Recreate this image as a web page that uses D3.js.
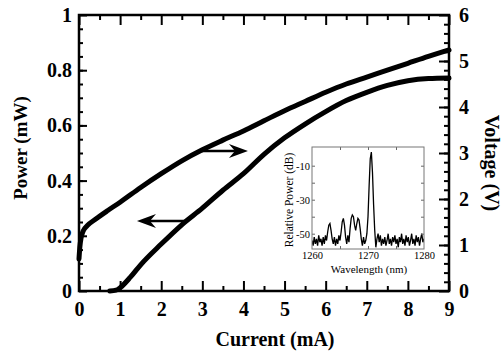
<!DOCTYPE html>
<html>
<head>
<meta charset="utf-8">
<script src="https://cdn.jsdelivr.net/npm/d3@7"></script>
<style>
  body { margin: 0; background: #fff; }
  svg { display: block; }
</style>
</head>
<body>
<script>
// L-I curve (left axis, power in mW)
const powerCurrent = [0.75, 0.9, 1.0, 1.25, 1.5, 2, 2.5, 3, 3.5, 4, 4.5, 5, 5.5, 6, 6.5, 7, 7.5, 8, 8.5, 9];
const powerMW      = [0, 0.003, 0.012, 0.05, 0.095, 0.17, 0.24, 0.3, 0.365, 0.425, 0.495, 0.555, 0.605, 0.65, 0.69, 0.72, 0.745, 0.762, 0.77, 0.772];

// V-I curve (right axis, volts)
const voltCurrent = [0, 0.02, 0.05, 0.1, 0.2, 0.4, 0.7, 1, 1.5, 2, 2.5, 3, 3.5, 4, 4.5, 5, 5.5, 6, 6.5, 7, 7.5, 8, 8.5, 9];
const voltage     = [0.7, 0.95, 1.15, 1.3, 1.42, 1.56, 1.75, 1.93, 2.25, 2.55, 2.83, 3.07, 3.28, 3.48, 3.7, 3.92, 4.12, 4.32, 4.5, 4.65, 4.8, 4.95, 5.1, 5.24];

const xTickLabels = [0, 1, 2, 3, 4, 5, 6, 7, 8, 9];
const powerTickLabels = [0, 0.2, 0.4, 0.6, 0.8, 1];
const voltTickLabels = [0, 1, 2, 3, 4, 5, 6];

// arrows [current, power] tail -> tip
const arrowTails = [[2.99, 0.507], [2.65, 0.254]];
const arrowTips  = [[4.11, 0.507], [1.41, 0.254]];

// inset spectrum, sampled every 0.2 nm from 1260 nm
const specStart = 1260, specStep = 0.2;
const specDB = [
  -54, -57, -52, -56, -53, -57, -51, -55, -53, -57,
  -52, -56, -51, -54, -49, -45, -44, -48, -53, -56,
  -52, -57, -53, -56, -51, -54, -49, -43, -41, -45,
  -52, -56, -51, -55, -47, -41, -39, -40, -45, -48,
  -44, -41, -42, -47, -53, -57, -52, -56, -54, -50,
  -40, -22, -6, -2, -14, -33, -48, -58, -53, -50,
  -55, -51, -57, -53, -56, -52, -57, -54, -50, -56,
  -53, -57, -52, -55, -51, -56, -53, -58, -52, -55,
  -50, -56, -53, -57, -51, -55, -52, -57, -54, -50,
  -56, -53, -57, -51, -55, -52, -57, -53, -50, -55,
  -53
];
const insetXLabels = [1260, 1270, 1280];
const insetXTicks = [1265, 1270, 1275];
const insetYLabels = [-10, -30, -50];
const insetYTicks = [-10, -20, -30, -40, -50];

const serif = '"Liberation Serif", "Times New Roman", Times, serif';
const width = 504, height = 353;
const margin = { top: 15, right: 55, bottom: 62, left: 79 };
const plotLeft = margin.left, plotRight = width - margin.right;
const plotTop = margin.top, plotBottom = height - margin.bottom;

const svg = d3.select('body').append('svg')
  .attr('width', width)
  .attr('height', height);

const x = d3.scaleLinear().domain([0, 9]).range([plotLeft, plotRight]);
const yP = d3.scaleLinear().domain([0, 1]).range([plotBottom, plotTop]);
const yV = d3.scaleLinear().domain([0, 6]).range([plotBottom, plotTop]);

const tickStyle = g => {
  g.attr('font-family', null);
  g.select('.domain').remove();
  g.selectAll('line').attr('stroke', '#000').attr('stroke-width', 2);
  g.selectAll('text').attr('font-size', 20).attr('font-weight', 'bold');
};

const xMinor = d3.range(0.5, 9, 1);
const pMinor = d3.range(0.05, 1, 0.05);
const vMinor = d3.range(0.2, 6, 0.2);

// bottom
svg.append('g').attr('transform', `translate(0,${plotBottom})`)
  .call(d3.axisBottom(x).tickValues(xTickLabels).tickSize(-10).tickPadding(11).tickFormat(d => d))
  .call(tickStyle);
svg.append('g').attr('transform', `translate(0,${plotBottom})`)
  .call(d3.axisBottom(x).tickValues(xMinor).tickSize(-5).tickFormat(''))
  .call(tickStyle);
// top
svg.append('g').attr('transform', `translate(0,${plotTop})`)
  .call(d3.axisTop(x).tickValues(xTickLabels).tickSize(-10).tickFormat(''))
  .call(tickStyle);
svg.append('g').attr('transform', `translate(0,${plotTop})`)
  .call(d3.axisTop(x).tickValues(xMinor).tickSize(-5).tickFormat(''))
  .call(tickStyle);
// left
svg.append('g').attr('transform', `translate(${plotLeft},0)`)
  .call(d3.axisLeft(yP).tickValues(powerTickLabels).tickSize(-8).tickPadding(7).tickFormat(d => String(d)))
  .call(tickStyle);
svg.append('g').attr('transform', `translate(${plotLeft},0)`)
  .call(d3.axisLeft(yP).tickValues(pMinor).tickSize(-4).tickFormat(''))
  .call(tickStyle);
// right
svg.append('g').attr('transform', `translate(${plotRight},0)`)
  .call(d3.axisRight(yV).tickValues(voltTickLabels).tickSize(-10).tickPadding(10).tickFormat(d => d))
  .call(tickStyle);
svg.append('g').attr('transform', `translate(${plotRight},0)`)
  .call(d3.axisRight(yV).tickValues(vMinor).tickSize(-5).tickFormat(''))
  .call(tickStyle);

// frame
svg.append('rect')
  .attr('x', plotLeft).attr('y', plotTop)
  .attr('width', plotRight - plotLeft).attr('height', plotBottom - plotTop)
  .attr('fill', 'none').attr('stroke', '#000').attr('stroke-width', 2.5);

// axis titles
svg.append('text')
  .attr('transform', 'translate(20,148) rotate(-90)')
  .attr('text-anchor', 'middle').attr('dy', '0.35em')
  .attr('font-size', 19).attr('font-weight', 'bold')
  .text('Power (mW)');
svg.append('text')
  .attr('x', (plotLeft + plotRight) / 2 + 11).attr('y', 346)
  .attr('text-anchor', 'middle')
  .attr('font-size', 20).attr('font-weight', 'bold')
  .text('Current (mA)');
svg.append('text')
  .attr('transform', 'translate(491,163) rotate(90)')
  .attr('text-anchor', 'middle').attr('dy', '0.32em')
  .attr('font-size', 20).attr('font-weight', 'bold')
  .text('Voltage (V)');

// curves
const powerLine = d3.line()
  .x(d => x(d[0])).y(d => yP(d[1]))
  .curve(d3.curveMonotoneX);
const voltLine = d3.line()
  .x(d => x(d[0])).y(d => yV(d[1]))
  .curve(d3.curveMonotoneX);

svg.append('path')
  .datum(d3.zip(powerCurrent, powerMW))
  .attr('fill', 'none').attr('stroke', '#000')
  .attr('stroke-width', 5).attr('stroke-linecap', 'round')
  .attr('d', powerLine);
svg.append('path')
  .datum(d3.zip(voltCurrent, voltage))
  .attr('fill', 'none').attr('stroke', '#000')
  .attr('stroke-width', 5).attr('stroke-linecap', 'round')
  .attr('d', voltLine);

// arrows
arrowTails.forEach((t, i) => {
  const tip = arrowTips[i];
  const x0 = x(t[0]), x1 = x(tip[0]), yy = yP(t[1]);
  const dir = Math.sign(x1 - x0);
  const headLen = 19, half = 7, notch = 6;
  svg.append('line')
    .attr('x1', x0).attr('y1', yy)
    .attr('x2', x1 - dir * (headLen - notch)).attr('y2', yy)
    .attr('stroke', '#000').attr('stroke-width', 2.5);
  svg.append('path')
    .attr('d', `M${x1},${yy} L${x1 - dir * headLen},${yy - half} L${x1 - dir * (headLen - notch)},${yy} L${x1 - dir * headLen},${yy + half} Z`)
    .attr('fill', '#000');
});

// inset spectrum
const ix0 = 312, ix1 = 424, iy0 = 147, iy1 = 249;
const xs = d3.scaleLinear().domain([1260, 1280]).range([ix0, ix1]);
const ys = d3.scaleLinear().domain([-59, 1]).range([iy1, iy0]);
const inset = svg.append('g');

inset.append('rect')
  .attr('x', ix0).attr('y', iy0).attr('width', ix1 - ix0).attr('height', iy1 - iy0)
  .attr('fill', '#fff');

svg.append('defs').append('clipPath').attr('id', 'inset-clip')
  .append('rect')
  .attr('x', ix0).attr('y', iy0).attr('width', ix1 - ix0).attr('height', iy1 - iy0);

const specLine = d3.line()
  .x((d, i) => xs(specStart + i * specStep))
  .y(d => ys(d));
inset.append('path')
  .datum(specDB)
  .attr('clip-path', 'url(#inset-clip)')
  .attr('fill', 'none').attr('stroke', '#000').attr('stroke-width', 1.3)
  .attr('d', specLine);

const insetStyle = g => {
  g.attr('font-family', null);
  g.select('.domain').remove();
  g.selectAll('line').attr('stroke', '#666').attr('stroke-width', 1);
  g.selectAll('text').attr('font-size', 10.5);
};
inset.append('g').attr('transform', `translate(0,${iy1})`)
  .call(d3.axisBottom(xs).tickValues(insetXTicks).tickSize(-3).tickFormat(''))
  .call(insetStyle);
inset.append('g').attr('transform', `translate(0,${iy1})`)
  .call(d3.axisBottom(xs).tickValues(insetXLabels).tickSize(0).tickPadding(3).tickFormat(d => d))
  .call(insetStyle);
inset.append('g').attr('transform', `translate(0,${iy0})`)
  .call(d3.axisTop(xs).tickValues(insetXTicks).tickSize(-3).tickFormat(''))
  .call(insetStyle);
inset.append('g').attr('transform', `translate(${ix0},0)`)
  .call(d3.axisLeft(ys).tickValues(insetYTicks).tickSize(-3).tickFormat(''))
  .call(insetStyle);
inset.append('g').attr('transform', `translate(${ix0},0)`)
  .call(d3.axisLeft(ys).tickValues(insetYLabels).tickSize(0).tickPadding(2).tickFormat(d => d))
  .call(insetStyle);
inset.append('g').attr('transform', `translate(${ix1},0)`)
  .call(d3.axisRight(ys).tickValues(insetYTicks).tickSize(-3).tickFormat(''))
  .call(insetStyle);

inset.append('rect')
  .attr('x', ix0).attr('y', iy0).attr('width', ix1 - ix0).attr('height', iy1 - iy0)
  .attr('fill', 'none').attr('stroke', '#777').attr('stroke-width', 1);

inset.append('text')
  .attr('transform', 'translate(289,200) rotate(-90)')
  .attr('text-anchor', 'middle').attr('dy', '0.35em')
  .attr('font-size', 11.5)
  .text('Relative Power (dB)');
inset.append('text')
  .attr('x', 369).attr('y', 273)
  .attr('text-anchor', 'middle')
  .attr('font-size', 11)
  .text('Wavelength (nm)');

// every label in a Times-like serif, as in the reference
svg.selectAll('text').style('font-family', serif).attr('fill', '#000');
</script>
</body>
</html>
